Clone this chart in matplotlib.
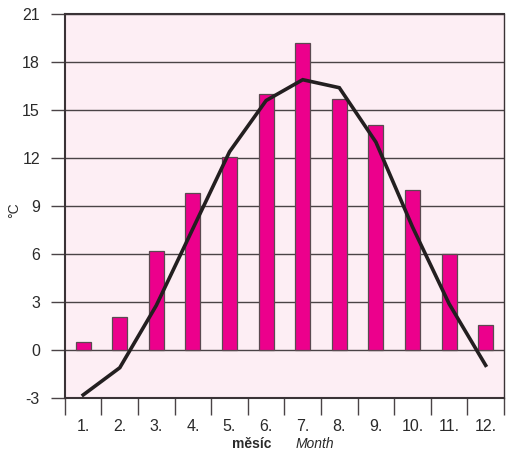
import matplotlib
matplotlib.use("Agg")
import matplotlib.pyplot as plt
import numpy as np

months = ["1.", "2.", "3.", "4.", "5.", "6.", "7.", "8.", "9.", "10.", "11.", "12."]
bar_values = [0.5, 2.1, 6.2, 9.8, 12.1, 16.0, 19.2, 15.7, 14.1, 10.0, 6.0, 1.6]
line_values = [-2.8, -1.1, 2.8, 7.6, 12.4, 15.6, 16.9, 16.4, 13.0, 7.7, 2.9, -0.95]
y_ticks = [-3, 0, 3, 6, 9, 12, 15, 18, 21]

plt.rcParams['font.family'] = ['Liberation Sans', 'DejaVu Sans']

fig = plt.figure(figsize=(5.07, 4.55), dpi=100)
ax = fig.add_axes([0.128, 0.125, 0.866, 0.844])
ax.set_facecolor('#fdeef4')

x = np.arange(len(months))
ax.bar(x, bar_values, width=0.41, color='#ec008c', edgecolor='#5a4a50', linewidth=0.9, zorder=3)
ax.plot(x, line_values, color='#231f20', linewidth=2.6, zorder=4, solid_joinstyle='miter')

ax.set_xlim(-0.5, 11.5)
ax.set_ylim(-3, 21)
ax.set_yticks(y_ticks)
ax.set_yticklabels([str(v) for v in y_ticks], fontsize=11.5, color='#2a2a2a')
for v in y_ticks:
    ax.axhline(v, color='#4a4346', linewidth=1.0, zorder=2)

ax.set_xticks(x)
ax.set_xticklabels(months, fontsize=11.5, color='#2a2a2a')
ax.tick_params(axis='x', which='major', length=0, pad=15)
ax.set_xticks(np.arange(-0.5, 12.0, 1.0), minor=True)
ax.tick_params(axis='x', which='minor', length=12, width=1.0, color='#4a4346', direction='out')
ax.tick_params(axis='y', length=10, width=1.0, color='#4a4346', pad=8)

for s in ['left', 'bottom', 'top']:
    ax.spines[s].set_color('#3a3336')
    ax.spines[s].set_linewidth(1.5)
ax.spines['right'].set_color('#3a3336')
ax.spines['right'].set_linewidth(1.0)

fig.text(0.028, 0.538, '°C', fontsize=10, rotation=90, ha='center', va='center', color='#2a2a2a')

fig.text(0.497, 0.024, 'měsíc', fontsize=10, fontweight='bold', ha='center', va='center', color='#2a2a2a')
fig.text(0.621, 0.024, 'Month', fontsize=10, fontstyle='italic', ha='center', va='center', color='#2a2a2a')

fig.savefig('out.png', dpi=100)
